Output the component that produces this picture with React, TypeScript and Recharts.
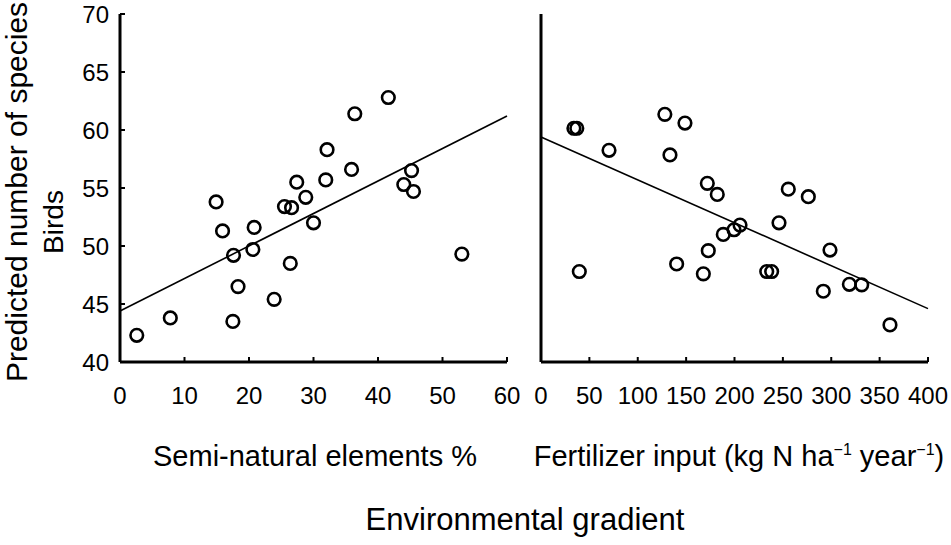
import React from 'react';
import { ScatterChart, Scatter, XAxis, YAxis, ReferenceLine } from 'recharts';

const FONT = '"Liberation Sans", Arial, Helvetica, sans-serif';

const semiX = [2.6, 7.8, 14.9, 15.9, 17.6, 17.5, 18.3, 20.8, 20.6, 23.9, 26.4, 25.5, 26.6, 28.8, 27.4, 30.0, 31.9, 32.1, 35.9, 36.4, 41.6, 45.2, 44.0, 45.5, 53.0];
const semiY = [42.3, 43.8, 53.8, 51.3, 49.2, 43.5, 46.5, 51.6, 49.7, 45.4, 48.5, 53.4, 53.3, 54.2, 55.5, 52.0, 55.7, 58.3, 56.6, 61.4, 62.8, 56.5, 55.3, 54.7, 49.3];

const fertX = [34, 37, 39.6, 70.3, 128, 148.8, 133.3, 171.9, 182.2, 188.4, 172.9, 140.2, 167.8, 199.5, 205.7, 255.6, 276.3, 246, 298.7, 233.3, 238.4, 291.8, 318.7, 331.5, 360.7];
const fertY = [60.15, 60.15, 47.8, 58.25, 61.35, 60.6, 57.85, 55.4, 54.45, 51.0, 49.6, 48.45, 47.6, 51.4, 51.8, 54.9, 54.25, 52.0, 49.65, 47.8, 47.8, 46.1, 46.7, 46.65, 43.2];

const semiFitX = [0, 60];
const semiFitY = [44.4, 61.2];
const fertFitX = [0, 400];
const fertFitY = [59.4, 44.6];

const semiTicks = [0, 10, 20, 30, 40, 50, 60];
const fertTicks = [0, 50, 100, 150, 200, 250, 300, 350, 400];
const yTicks = [40, 45, 50, 55, 60, 65, 70];

const semiData = semiX.map((x, i) => ({ x, y: semiY[i] }));
const fertData = fertX.map((x, i) => ({ x, y: fertY[i] }));

const Ring = (props: any) => (
  <circle cx={props.cx} cy={props.cy} r={6.3} fill="none" stroke="#000" strokeWidth={2.6} />
);

const tickStyle = { fill: '#000', fontSize: 24, fontFamily: FONT };
const axisLine = { stroke: '#000', strokeWidth: 3 };
const tickLine = { stroke: '#000', strokeWidth: 2 };

export default function App() {
  return (
    <div style={{ position: 'absolute', left: 0, top: 0, width: 951, height: 545, background: '#fff', fontFamily: FONT }}>
      <div style={{ position: 'absolute', left: 0, top: 0 }}>
        <ScatterChart width={520} height={545} margin={{ top: 14, right: 13, bottom: 143, left: 0 }}>
          <XAxis
            type="number"
            dataKey="x"
            domain={[0, 60]}
            ticks={semiTicks}
            height={40}
            tickSize={-5}
            tickMargin={30}
            axisLine={axisLine}
            tickLine={tickLine}
            tick={tickStyle}
            interval={0}
          />
          <YAxis
            type="number"
            dataKey="y"
            domain={[40, 70]}
            ticks={yTicks}
            width={120}
            tickSize={-5}
            tickMargin={16}
            axisLine={axisLine}
            tickLine={tickLine}
            tick={tickStyle}
            interval={0}
          />
          <ReferenceLine
            segment={[{ x: semiFitX[0], y: semiFitY[0] }, { x: semiFitX[1], y: semiFitY[1] }]}
            stroke="#000"
            strokeWidth={1.6}
            ifOverflow="visible"
          />
          <Scatter data={semiData} shape={Ring} isAnimationActive={false} />
        </ScatterChart>
      </div>
      <div style={{ position: 'absolute', left: 480, top: 0 }}>
        <ScatterChart width={471} height={545} margin={{ top: 14, right: 23, bottom: 143, left: 0 }}>
          <XAxis
            type="number"
            dataKey="x"
            domain={[0, 400]}
            ticks={fertTicks}
            height={40}
            tickSize={-5}
            tickMargin={30}
            axisLine={axisLine}
            tickLine={tickLine}
            tick={tickStyle}
            interval={0}
          />
          <YAxis
            type="number"
            dataKey="y"
            domain={[40, 70]}
            ticks={yTicks}
            width={61}
            tickSize={-5}
            tick={false}
            axisLine={axisLine}
            tickLine={tickLine}
            interval={0}
          />
          <ReferenceLine
            segment={[{ x: fertFitX[0], y: fertFitY[0] }, { x: fertFitX[1], y: fertFitY[1] }]}
            stroke="#000"
            strokeWidth={1.6}
            ifOverflow="visible"
          />
          <Scatter data={fertData} shape={Ring} isAnimationActive={false} />
        </ScatterChart>
      </div>
      <svg width={951} height={545} style={{ position: 'absolute', left: 0, top: 0, pointerEvents: 'none' }}>
        <g fontFamily={FONT} fill="#000">
          <text x={27} y={192} fontSize={30} textAnchor="middle" transform="rotate(-90 27 192)">
            Predicted number of species
          </text>
          <text x={63} y={222} fontSize={28} textAnchor="middle" transform="rotate(-90 63 222)">
            Birds
          </text>
          <text x={315} y={466} fontSize={29} textAnchor="middle">
            Semi-natural elements %
          </text>
          <text x={739} y={466} fontSize={29} textAnchor="middle">
            Fertilizer input (kg N ha
            <tspan fontSize={16} dy={-11}>−1</tspan>
            <tspan dy={11}> year</tspan>
            <tspan fontSize={16} dy={-11}>−1</tspan>
            <tspan dy={11}>)</tspan>
          </text>
          <text x={525} y={530} fontSize={31} textAnchor="middle">
            Environmental gradient
          </text>
        </g>
      </svg>
    </div>
  );
}
